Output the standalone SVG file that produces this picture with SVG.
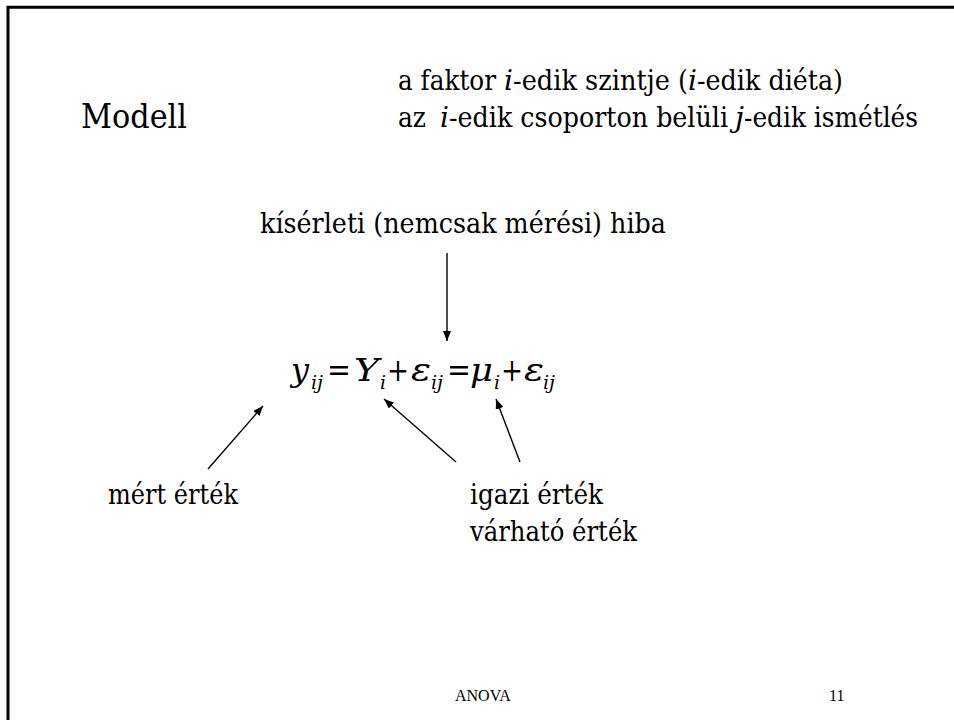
<svg xmlns="http://www.w3.org/2000/svg" width="954" height="720" viewBox="0 0 954 720">
  <style>
    .t { font-family: "DejaVu Serif", serif; fill: #000; }
    .body { font-size: 28px; }
    .it { font-style: italic; }
    .m { font-size: 31px; font-style: italic; }
    .op { font-size: 31px; font-style: normal; }
    .sub { font-size: 18px; font-style: italic; }
    .foot { font-family: "Liberation Serif", serif; font-size: 16px; fill: #000; }
    .conn { stroke: #000; stroke-width: 1.4; fill: none; marker-end: url(#head); }
  </style>
  <defs>
    <marker id="head" markerUnits="userSpaceOnUse" markerWidth="10" markerHeight="8" refX="10" refY="4" orient="auto">
      <path d="M0,0 L10,4 L0,8 Z" fill="#000"/>
    </marker>
  </defs>

  <rect width="954" height="720" fill="#fff"/>

  <!-- slide frame: only the top and left edges fall inside the page -->
  <path d="M8,720 V7.2 H954" fill="none" stroke="#000" stroke-width="3"/>

  <g id="title">
    <text class="t" x="81" y="128" font-size="33" textLength="106" lengthAdjust="spacingAndGlyphs">Modell</text>
  </g>

  <!-- each run is placed on its own so the italic letters keep their spots -->
  <g id="index-notes">
    <text class="t body" x="398" y="90" textLength="98" lengthAdjust="spacingAndGlyphs">a faktor</text>
    <text class="t body it" x="504" y="90" textLength="9" lengthAdjust="spacingAndGlyphs">i</text>
    <text class="t body" x="513" y="90" textLength="175" lengthAdjust="spacingAndGlyphs">-edik szintje (</text>
    <text class="t body it" x="688" y="90" textLength="9" lengthAdjust="spacingAndGlyphs">i</text>
    <text class="t body" x="697" y="90" textLength="146" lengthAdjust="spacingAndGlyphs">-edik diéta)</text>

    <text class="t body" x="398" y="127" textLength="28" lengthAdjust="spacingAndGlyphs">az</text>
    <text class="t body it" x="440" y="127" textLength="9" lengthAdjust="spacingAndGlyphs">i</text>
    <text class="t body" x="449" y="127" textLength="279" lengthAdjust="spacingAndGlyphs">-edik csoporton belüli</text>
    <text class="t body it" x="735" y="127" textLength="9" lengthAdjust="spacingAndGlyphs">j</text>
    <text class="t body" x="744" y="127" textLength="174" lengthAdjust="spacingAndGlyphs">-edik ismétlés</text>
  </g>

  <g id="error-label">
    <text class="t body" x="260" y="233" textLength="406" lengthAdjust="spacingAndGlyphs">kísérleti (nemcsak mérési) hiba</text>
  </g>

  <g id="equation">
    <text class="t m" x="291" y="381" textLength="18" lengthAdjust="spacingAndGlyphs">y</text>
    <text class="t sub" x="311" y="389" textLength="12" lengthAdjust="spacingAndGlyphs">ij</text>
    <text class="t op" x="327" y="381" textLength="24" lengthAdjust="spacingAndGlyphs">=</text>
    <text class="t m" x="354" y="381" textLength="25" lengthAdjust="spacingAndGlyphs">Y</text>
    <text class="t sub" x="380" y="389" textLength="6" lengthAdjust="spacingAndGlyphs">i</text>
    <text class="t op" x="387" y="381" textLength="22" lengthAdjust="spacingAndGlyphs">+</text>
    <text class="t m" x="411" y="381" textLength="20" lengthAdjust="spacingAndGlyphs">ε</text>
    <text class="t sub" x="431" y="389" textLength="12" lengthAdjust="spacingAndGlyphs">ij</text>
    <text class="t op" x="447" y="381" textLength="24" lengthAdjust="spacingAndGlyphs">=</text>
    <text class="t m" x="470" y="381" textLength="23" lengthAdjust="spacingAndGlyphs">μ</text>
    <text class="t sub" x="494" y="389" textLength="6" lengthAdjust="spacingAndGlyphs">i</text>
    <text class="t op" x="501" y="381" textLength="22" lengthAdjust="spacingAndGlyphs">+</text>
    <text class="t m" x="524" y="381" textLength="20" lengthAdjust="spacingAndGlyphs">ε</text>
    <text class="t sub" x="543" y="389" textLength="12" lengthAdjust="spacingAndGlyphs">ij</text>
  </g>

  <g id="measured-label">
    <text class="t body" x="108" y="504" textLength="130" lengthAdjust="spacingAndGlyphs">mért érték</text>
  </g>

  <g id="true-label">
    <text class="t body" x="470" y="504" textLength="133" lengthAdjust="spacingAndGlyphs">igazi érték</text>
    <text class="t body" x="470" y="541" textLength="167" lengthAdjust="spacingAndGlyphs">várható érték</text>
  </g>

  <g id="connectors">
    <line class="conn" x1="447" y1="253" x2="447" y2="341"/>
    <line class="conn" x1="208" y1="469" x2="263" y2="406"/>
    <line class="conn" x1="456" y1="462" x2="384" y2="399"/>
    <line class="conn" x1="520" y1="462" x2="496" y2="399"/>
  </g>

  <g id="footer">
    <text class="foot" x="455" y="701">ANOVA</text>
    <text class="foot" x="829" y="701">11</text>
  </g>
</svg>
